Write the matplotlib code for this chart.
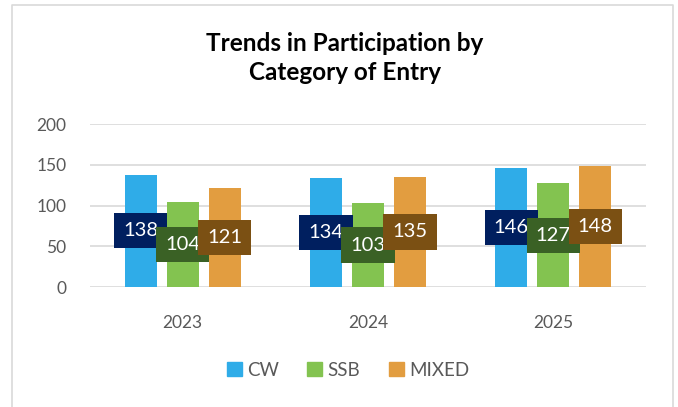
import matplotlib
matplotlib.use("Agg")
import matplotlib.pyplot as plt
from matplotlib.patches import Rectangle
from matplotlib.lines import Line2D
import numpy as np

years = ["2023", "2024", "2025"]
series = ["CW", "SSB", "MIXED"]
cw = [138, 134, 146]
ssb = [104, 103, 127]
mixed = [121, 135, 148]
yticks = [0, 50, 100, 150, 200]

bar_colors = ["#2FACE8", "#83C350", "#E29D40"]
label_colors = ["#001F5F", "#3A6125", "#7B5013"]

plt.rcParams['font.family'] = ['Lato', 'DejaVu Sans']

fig = plt.figure(figsize=(6.78, 4.07), dpi=100)
# outer frame
fig.add_artist(Line2D([12/678, 12/678, 673/678, 673/678],
                      [0, 1-5/407, 1-5/407, 0], transform=fig.transFigure,
                      color="#D9D9D9", lw=1.2))

ax = fig.add_axes([90/678, 1-287/407, 556/678, (287-124)/407])
x = np.arange(len(years))
w = 0.173
off = 0.227
for i, vals in enumerate([cw, ssb, mixed]):
    pos = x + (i - 1) * off
    ax.bar(pos, vals, width=w, color=bar_colors[i], zorder=2, label=series[i])
for i, vals in enumerate([cw, ssb, mixed]):
    pos = x + (i - 1) * off
    for p, v in zip(pos, vals):
        ax.text(p, v / 2, str(v), ha="center", va="center", color="white",
                fontsize=14.5, zorder=5 + i,
                bbox=dict(boxstyle="square,pad=0.45", fc=label_colors[i], ec="none"))

ax.set_xlim(-0.5, 2.5)
ax.set_ylim(0, 200)
ax.set_yticks(yticks)
ax.set_xticks(x)
ax.set_xticklabels(years)
ax.grid(axis="y", color="#D9D9D9", lw=1.2, zorder=0)
for s in ax.spines.values():
    s.set_visible(False)
ax.tick_params(axis="both", length=0, colors="#595959", labelsize=12.5)
ax.tick_params(axis="y", pad=17)
ax.tick_params(axis="x", pad=20)

fig.text(345/678, 1-58/407, "Trends in Participation by\nCategory of Entry",
         ha="center", va="center", fontsize=17.5, fontweight="bold",
         color="black", linespacing=1.35)

handles = [Rectangle((0, 0), 1, 1, color=c) for c in bar_colors]
fig.legend(handles, series, loc="center", bbox_to_anchor=(348/678, 1-370/407),
           ncol=3, frameon=False, fontsize=13.5, labelcolor="#595959",
           handlelength=0.8, handleheight=0.8, handletextpad=0.3, columnspacing=1.5)

fig.savefig("out.png", dpi=100)
